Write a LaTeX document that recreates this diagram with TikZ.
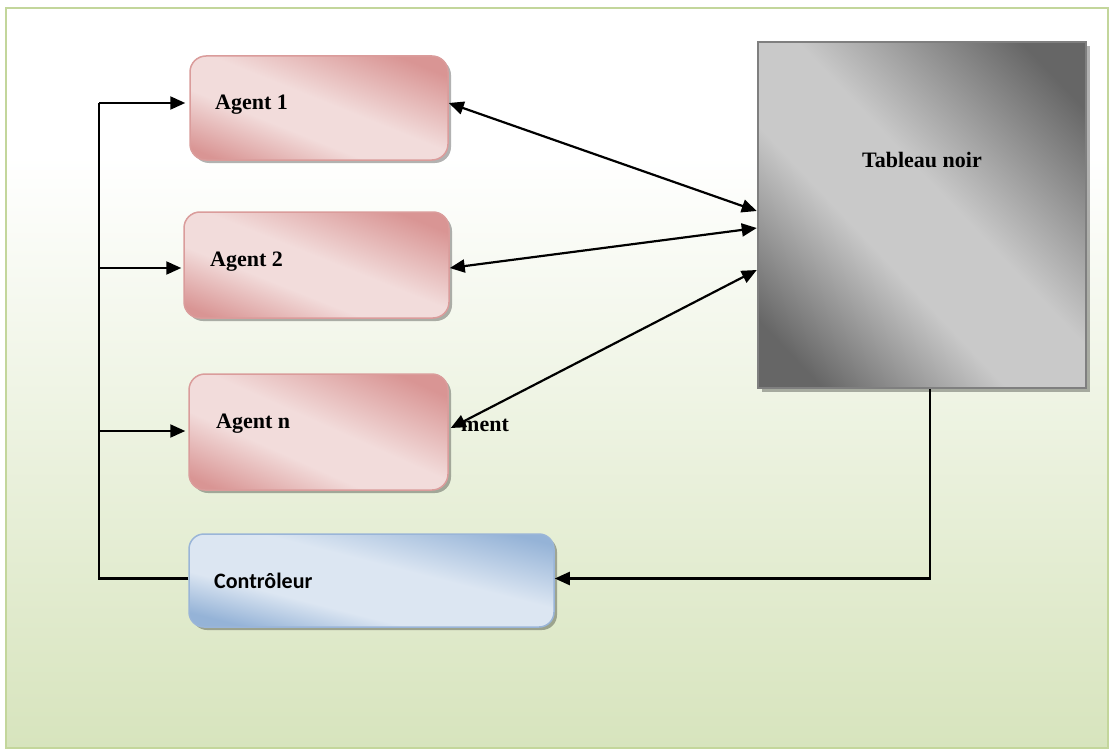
\documentclass[tikz,border=0pt]{standalone}
\usepackage{fontspec}
\setmainfont{Liberation Serif}
\newfontfamily\calibrifont{Carlito}
\usetikzlibrary{arrows.meta,shadows}
\definecolor{pD}{HTML}{D99594}
\definecolor{pL}{HTML}{F2DCDB}
\definecolor{pB}{HTML}{DA9C9B}
\definecolor{bD}{HTML}{95B3D7}
\definecolor{bL}{HTML}{DCE6F2}
\definecolor{bB}{HTML}{9AB5D8}
\definecolor{gD}{HTML}{666666}
\definecolor{gL}{HTML}{C9C9C9}
\definecolor{gB}{HTML}{7F7F7F}
\definecolor{bgG}{HTML}{D7E4BD}
\definecolor{frG}{HTML}{C3D69B}
\pgfdeclarehorizontalshading{pinkdiag}{100bp}{color(0bp)=(pD); color(28bp)=(pD); color(42bp)=(pL); color(52bp)=(pL); color(70bp)=(pD); color(100bp)=(pD)}
\pgfdeclarehorizontalshading{bluediag}{100bp}{color(0bp)=(bD); color(29bp)=(bD); color(40bp)=(bL); color(55bp)=(bL); color(72bp)=(bD); color(100bp)=(bD)}
\pgfdeclarehorizontalshading{graydiag}{100bp}{color(0bp)=(gD); color(30bp)=(gD); color(44bp)=(gL); color(53bp)=(gL); color(70bp)=(gD); color(100bp)=(gD)}
\pgfdeclareverticalshading{bgshade}{100bp}{color(0bp)=(bgG); color(25bp)=(bgG); color(65bp)=(white); color(100bp)=(white)}
\begin{document}
\begin{tikzpicture}[x=1pt,y=-1pt,
  diag/.style n args={3}{path picture={%
    \pgfmathsetmacro\dsx{#2/35.36}\pgfmathsetmacro\dsy{#3/35.36}%
    \begin{pgfscope}%
      \pgftransformshift{\pgfpointanchor{path picture bounding box}{center}}%
      \pgftransformxscale{\dsx}\pgftransformyscale{\dsy}%
      \pgftransformrotate{45}%
      \pgflowlevelsynccm
      \pgfuseshading{#1}%
    \end{pgfscope}}},
  agentbox/.style={rounded corners=16pt, draw=pB, line width=1.5pt, fill=pL,
    drop shadow={shadow xshift=3pt, shadow yshift=-3pt, fill=black, opacity=.3}, inner sep=0pt},
  ctrlbox/.style={rounded corners=15pt, draw=bB, line width=1.5pt, fill=bL,
    drop shadow={shadow xshift=3pt, shadow yshift=-3pt, fill=black, opacity=.3}, inner sep=0pt},
  boardbox/.style={draw=gB, line width=2.5pt, fill=gL,
    drop shadow={shadow xshift=4pt, shadow yshift=-4pt, fill=black, opacity=.3}, inner sep=0pt},
  lbl/.style={inner sep=0pt, font=\bfseries\fontsize{22}{26}\selectfont},
  clbl/.style={inner sep=0pt, font=\calibrifont\bfseries\fontsize{22}{26}\selectfont},
  conn/.style={line width=2.2pt},
  one/.style={conn, -{Triangle[length=15pt,width=13pt]}},
  both/.style={conn, {Triangle[length=15pt,width=13pt]}-{Triangle[length=15pt,width=13pt]}}
]
\useasboundingbox (0,0) rectangle (1110,749);
\draw[draw=frG, line width=2pt, shading=bgshade] (6,8) rectangle (1108,748);

\node[agentbox, diag={pinkdiag}{258}{104}, minimum width=258pt, minimum height=104pt] (a1) at (319,108) {};
\node[agentbox, diag={pinkdiag}{265}{106}, minimum width=265pt, minimum height=106pt] (a2) at (316.5,265) {};
\node[agentbox, diag={pinkdiag}{259}{116}, minimum width=259pt, minimum height=116pt] (an) at (318.5,432) {};
\node[ctrlbox, diag={bluediag}{365}{93}, minimum width=365pt, minimum height=93pt] (c) at (371.5,580.5) {};
\node[boardbox, diag={graydiag}{328}{346}, minimum width=328pt, minimum height=346pt] (tb) at (922,215) {};

\node[lbl, anchor=base west] (l1) at (215,110) {Agent 1};
\node[lbl, anchor=base west] (l2) at (210,266) {Agent 2};
\node[lbl, anchor=base west] (ln) at (216,428) {Agent n};
\node[lbl, anchor=base] (lt) at (922,167) {Tableau noir};
\node[lbl, anchor=base west] (lm) at (461,431) {ment};
\node[clbl, anchor=base west] (lc) at (214,588) {Contrôleur};

\draw[both] ([yshift=5pt]a1.east) -- ([yshift=4pt]tb.west);
\draw[both] ([yshift=-3pt]a2.east) -- ([yshift=-13pt]tb.west);
\draw[both] ([xshift=2pt,yshift=4pt]an.east) -- ([yshift=-55pt]tb.west);

\draw[one] ([xshift=8pt]tb.south) |- ([yshift=2pt]c.east);

\coordinate (bt) at (99,103);
\coordinate (b2) at (99,268);
\coordinate (bn) at (99,431);
\draw[conn] ([yshift=2pt]c.west) -| (bt);
\draw[one, shorten >=4pt] (bt) -- (bt -| a1.west);
\draw[one, shorten >=2pt] (b2) -- (b2 -| a2.west);
\draw[one, shorten >=3pt] (bn) -- (bn -| an.west);
\end{tikzpicture}
\end{document}
